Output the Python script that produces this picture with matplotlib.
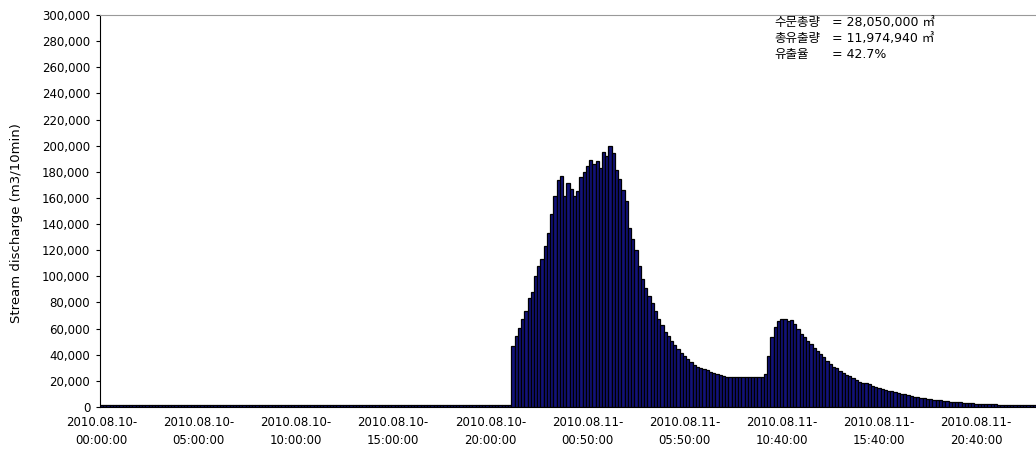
import numpy as np
import matplotlib
matplotlib.use("Agg")
import matplotlib.pyplot as plt
from matplotlib.ticker import FuncFormatter

# -----------------------------
# Data (10-minute discharge, m3/10min)
# -----------------------------
base_flow = [1200] * 127

rising_limb = [46500, 54400, 60300, 67700, 73500, 83700, 88300, 100200, 107800,
               112900, 123100, 132800, 148000, 161200, 174000, 177000]

main_peak = [161800, 171400, 166800, 161800, 165000, 175700, 179500, 184100,
             188700, 185900, 187900, 182900, 194800, 192300, 200100, 194300,
             181600, 174700, 165800, 157900, 137100, 128700, 120000, 107800]

recession = [97700, 91000, 85000, 79400, 73500, 67700, 62600, 57500, 54400,
             50600, 47300, 44300, 41200, 39200, 36600, 34100, 32300, 31000,
             30000, 29000, 28000, 27000, 25900, 25200, 24400, 23400, 22600]

plateau = [22600] * 11

second_peak = [25200, 38700, 53900, 61600, 65900, 67700, 67700, 65900, 66600,
               63300, 59500, 55700, 53200, 50600, 48100, 45500, 43000, 40400,
               37900, 35300, 32800, 31000, 29500, 27700, 25900, 24400, 23400,
               21900, 20600, 19300, 18300, 18300, 17500, 16200]

tail = [15500, 14200, 13700, 13000, 12400, 12000, 11700, 10700, 10300, 9900,
        9200, 8600, 8000, 7400, 7200, 6800, 6400, 6000, 5600, 5300, 5000, 4700,
        4400, 4200, 4000, 3700, 3500, 3300, 3100, 2900, 2800, 2600, 2500, 2400,
        2300, 2200, 2100, 2000, 1900, 1800, 1800, 1700, 1600, 1600, 1500, 1500,
        1400, 1400, 1300, 1300]

discharge = base_flow + rising_limb + main_peak + recession + plateau + second_peak + tail

tick_step = 30
tick_labels = ["2010.08.10-\n00:00:00", "2010.08.10-\n05:00:00", "2010.08.10-\n10:00:00",
               "2010.08.10-\n15:00:00", "2010.08.10-\n20:00:00", "2010.08.11-\n00:50:00",
               "2010.08.11-\n05:50:00", "2010.08.11-\n10:40:00", "2010.08.11-\n15:40:00",
               "2010.08.11-\n20:40:00"]

summary_names = ["수문총량", "총유출량", "유출율"]
summary_values = ["= 28,050,000 ㎥", "= 11,974,940 ㎥", "= 42.7%"]

# -----------------------------
# Plot
# -----------------------------
plt.rcParams['font.family'] = ['DejaVu Sans']

fig = plt.figure(figsize=(10.36, 4.53), dpi=100)
ax = fig.add_axes([0.0965, 0.1015, 0.9035, 0.8655])

x = np.arange(len(discharge))
ax.bar(x, discharge, width=1.0, color="#12127a", edgecolor="black", linewidth=0.9)

ax.set_xlim(-0.5, len(discharge) - 0.5)
ax.set_ylim(0, 300000)
ax.set_yticks(np.arange(0, 300001, 20000))
ax.yaxis.set_major_formatter(FuncFormatter(lambda v, p: f"{int(v):,}"))
ax.tick_params(axis="y", labelsize=8.5, length=3, width=0.8, pad=4)

ax.set_xticks(x[::tick_step][:len(tick_labels)])
ax.set_xticklabels(tick_labels, fontsize=8.5, linespacing=1.45)
ax.tick_params(axis="x", length=0, pad=6.5)

ax.set_ylabel("Stream discharge (m3/10min)", fontsize=9.5, labelpad=8)
ax.yaxis.set_label_coords(-0.082, 0.47)

ax.spines["right"].set_visible(False)
ax.spines["top"].set_color("#999999")
ax.spines["left"].set_linewidth(0.8)
ax.spines["bottom"].set_linewidth(0.8)

# summary text
cjk = ['Noto Sans CJK KR', 'DejaVu Sans']
for i, (name, val) in enumerate(zip(summary_names, summary_values)):
    yy = 0.982 - i * 0.042
    ax.text(0.721, yy, name, transform=ax.transAxes, fontsize=9,
            family=cjk, va="center", ha="left")
    ax.text(0.782, yy, val, transform=ax.transAxes, fontsize=9,
            family=['DejaVu Sans', 'Noto Sans CJK KR'], va="center", ha="left")

fig.savefig("out.png", dpi=100)
